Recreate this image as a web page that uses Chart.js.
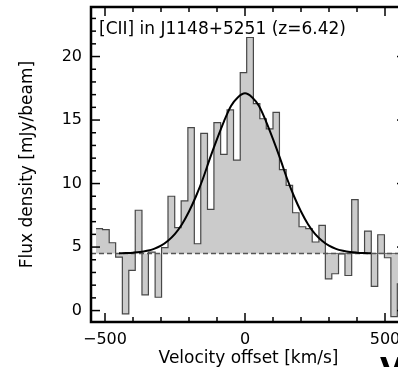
<!DOCTYPE html>
<html lang="en">
<head>
<meta charset="UTF-8" />
<title>[CII] in J1148+5251</title>
<style>
  body { margin: 0; padding: 0; background: #fff; overflow: hidden; }
  .wrap { position: relative; width: 398px; height: 367px; overflow: hidden; }
  #spec { display: block; }
  .cut-letter { position: absolute; left: 380px; top: 351px; font: bold 30px "DejaVu Sans", sans-serif; color: #000; line-height: normal; }
</style>
</head>
<body>
<div class="wrap">
  <canvas id="spec" width="408" height="367" style="width:408px;height:367px"></canvas>
  <div class="cut-letter">V</div>
</div>
<script src="https://cdn.jsdelivr.net/npm/chart.js"></script>
<script>
// channel left edges (km/s), the last one closes the final channel
const chanEdges = [-532, -509, -485, -462, -438, -415, -392, -368, -345, -321, -298, -275, -251, -228, -204, -181,
  -158, -134, -111, -87, -64, -41, -17, 6, 30, 53, 76, 100, 123, 147, 170, 193, 217, 240, 264, 287,
  310, 334, 357, 381, 404, 427, 451, 474, 498, 521, 544, 568];
// flux density per channel (mJy/beam)
const flux = [6.45, 6.37, 5.34, 4.2, -0.26, 3.16, 7.9, 1.24, 4.6, 1.05, 4.95, 9.0, 6.53, 8.63, 14.4, 5.26,
  13.95, 7.97, 14.8, 12.3, 15.8, 11.84, 18.73, 21.5, 16.3, 15.1, 14.3, 15.6, 11.1, 9.85, 7.7, 6.6,
  6.45, 5.4, 6.7, 2.5, 2.9, 4.47, 2.76, 8.74, 4.5, 6.26, 1.9, 5.97, 4.16, -0.47, 2.1];
// gaussian fit
const fitV = [-450, -425, -400, -375, -350, -325, -300, -275, -250, -225, -200, -175, -150, -125, -100, -75, -50, -25, 0,
  25, 50, 75, 100, 125, 150, 175, 200, 225, 250, 275, 300, 325, 350, 375, 400, 425, 450];
const fitFlux = [4.51, 4.53, 4.56, 4.61, 4.71, 4.86, 5.11, 5.5, 6.04, 6.8, 7.8, 9.0, 10.4, 12.0, 13.5, 14.9, 16.1, 16.8, 17.1,
  16.8, 16.1, 14.9, 13.5, 12.0, 10.4, 9.0, 7.8, 6.8, 6.04, 5.5, 5.11, 4.86, 4.71, 4.61, 4.56, 4.53, 4.51];
const continuum = 4.5;
const contSolidFrom = 287;

const xMin = -550, xMax = 575;
const yMin = -0.9, yMax = 23.9;
const xTicks = [-500, 0, 500];
const yTicks = [0, 5, 10, 15, 20];
const title = '[CII] in J1148+5251 (z=6.42)';

const histPoints = chanEdges.map((v, i) => ({ x: v, y: flux[Math.min(i, flux.length - 1)] }));
const fitPoints = fitV.map((v, i) => ({ x: v, y: fitFlux[i] }));

const frame = {
  id: 'frame',
  afterDraw(chart) {
    const { ctx, chartArea: a, scales: { x, y } } = chart;
    ctx.save();
    ctx.strokeStyle = '#000';
    ctx.lineWidth = 1.5;
    const seg = (x1, y1, x2, y2) => { ctx.beginPath(); ctx.moveTo(x1, y1); ctx.lineTo(x2, y2); ctx.stroke(); };
    for (let v = Math.ceil(y.min); v <= y.max; v++) {
      const py = y.getPixelForValue(v);
      const len = v % 5 === 0 ? 9 : 5;
      seg(a.left, py, a.left + len, py);
      seg(a.right, py, a.right - len, py);
    }
    for (let v = -500; v <= 500; v += 100) {
      const px = x.getPixelForValue(v);
      const len = v % 500 === 0 ? 9 : 5;
      seg(px, a.bottom, px, a.bottom - len);
      seg(px, a.top, px, a.top + len);
    }
    ctx.lineWidth = 2.5;
    ctx.strokeRect(a.left, a.top, a.right - a.left, a.bottom - a.top);
    ctx.font = '17px "DejaVu Sans"';
    ctx.fillStyle = '#000';
    ctx.textBaseline = 'alphabetic';
    ctx.fillText(title, a.left + 8, a.top + 26.5);
    ctx.restore();
  }
};

new Chart(document.getElementById('spec'), {
  type: 'line',
  data: {
    datasets: [
      {
        data: fitPoints,
        borderColor: '#000',
        borderWidth: 2,
        pointRadius: 0,
        cubicInterpolationMode: 'monotone',
        fill: false
      },
      {
        data: [{ x: xMin, y: continuum }, { x: xMax, y: continuum }],
        borderColor: '#555',
        borderWidth: 1.5,
        borderDash: [5, 3],
        pointRadius: 0,
        fill: false
      },
      {
        data: [{ x: contSolidFrom, y: continuum }, { x: xMax, y: continuum }],
        borderColor: '#666',
        borderWidth: 1,
        pointRadius: 0,
        fill: false
      },
      {
        data: histPoints,
        stepped: true,
        borderColor: '#474747',
        borderWidth: 1.2,
        backgroundColor: '#cbcbcb',
        pointRadius: 0,
        fill: { value: continuum }
      }
    ]
  },
  options: {
    responsive: false,
    devicePixelRatio: 1,
    animation: false,
    layout: { padding: { left: 0, top: 7, right: 2, bottom: 0 } },
    plugins: { legend: { display: false }, tooltip: { enabled: false } },
    scales: {
      x: {
        type: 'linear',
        min: xMin,
        max: xMax,
        afterBuildTicks: s => { s.ticks = xTicks.map(v => ({ value: v })); },
        afterFit: s => { s.height = 45; s.paddingLeft = 0; s.paddingRight = 0; },
        grid: { display: false, drawTicks: false },
        border: { display: false },
        ticks: {
          padding: 8,
          color: '#000',
          maxRotation: 0,
          font: { family: 'DejaVu Sans', size: 16 },
          callback: v => (v < 0 ? '\u2212' + Math.abs(v) : String(v))
        },
        title: {
          display: true,
          text: 'Velocity offset [km/s]',
          color: '#000',
          font: { family: 'DejaVu Sans', size: 17 },
          padding: { top: 0, bottom: -2 }
        }
      },
      y: {
        min: yMin,
        max: yMax,
        afterBuildTicks: s => { s.ticks = yTicks.map(v => ({ value: v })); },
        afterFit: s => { s.width = 91; s.paddingTop = 0; s.paddingBottom = 0; },
        grid: { display: false, drawTicks: false },
        border: { display: false },
        ticks: {
          padding: 9,
          color: '#000',
          font: { family: 'DejaVu Sans', size: 16 }
        },
        title: {
          display: true,
          text: 'Flux density [mJy/beam]',
          color: '#000',
          font: { family: 'DejaVu Sans', size: 17 },
          padding: { top: 17, bottom: 0 }
        }
      }
    }
  },
  plugins: [frame]
});
</script>
</body>
</html>
